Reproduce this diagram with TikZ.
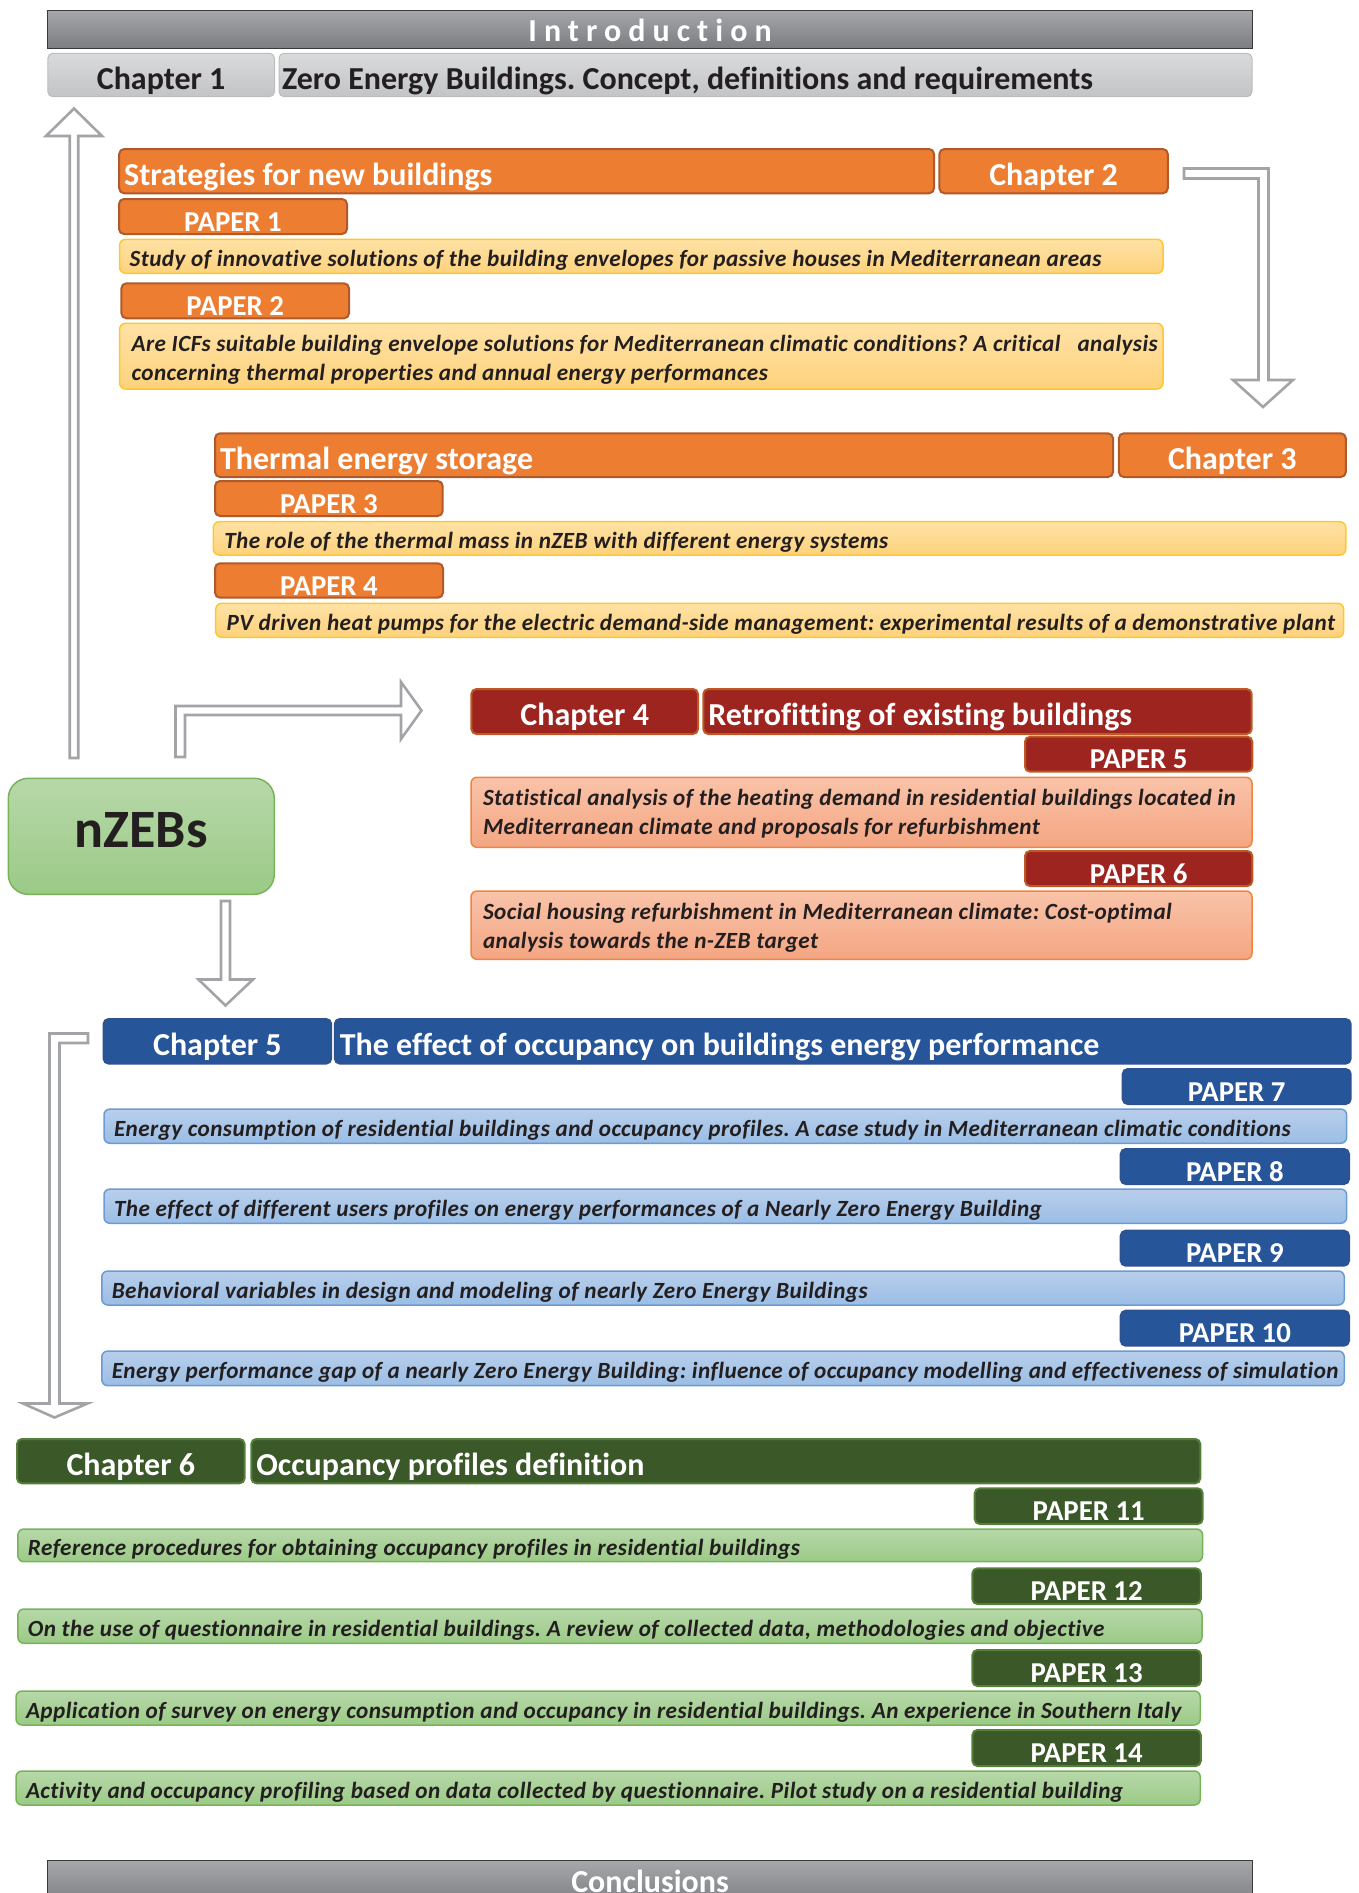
\documentclass[tikz,border=0pt]{standalone}
\usepackage{fontspec}
\setmainfont{Carlito}[Ligatures=NoCommon]
\frenchspacing
\usepackage{tikz}
\usetikzlibrary{calc}
\definecolor{barTop}{HTML}{A6A7AB}
\definecolor{barBot}{HTML}{7C7D81}
\definecolor{barLine}{HTML}{3A3A3A}
\definecolor{greyTop}{HTML}{D9DADC}
\definecolor{greyBot}{HTML}{C3C4C6}
\definecolor{greyLine}{HTML}{BCBDBF}
\definecolor{ink}{HTML}{231F20}
\definecolor{chapOrange}{HTML}{ED7D31}
\definecolor{orangeLine}{HTML}{B0592A}
\definecolor{sandTop}{HTML}{FFE2A6}
\definecolor{sandBot}{HTML}{FDD27C}
\definecolor{sandLine}{HTML}{FFC72C}
\definecolor{brick}{HTML}{9E2420}
\definecolor{brickLine}{HTML}{BD5A24}
\definecolor{salmonTop}{HTML}{F9C3A9}
\definecolor{salmonBot}{HTML}{F4A683}
\definecolor{salmonLine}{HTML}{F0843F}
\definecolor{navy}{HTML}{27559A}
\definecolor{navyLine}{HTML}{2D5290}
\definecolor{skyTop}{HTML}{B8CFEB}
\definecolor{skyBot}{HTML}{9BBDE5}
\definecolor{skyLine}{HTML}{6B9BD3}
\definecolor{forest}{HTML}{3A5828}
\definecolor{forestLine}{HTML}{557F38}
\definecolor{leafTop}{HTML}{B7D8A9}
\definecolor{leafBot}{HTML}{9BCA86}
\definecolor{leafLine}{HTML}{78B35A}
\definecolor{arrowLine}{HTML}{A3A4A8}
\newcommand\ttlfont{\bfseries\fontsize{32}{38}\selectfont}
\newcommand\paperfont{\bfseries\fontsize{28.8}{34}\selectfont}
\newcommand\descfont{\bfseries\itshape\fontsize{23.2}{29}\selectfont\addfontfeature{LetterSpace=1.8}}
\newcommand\nzebfont{\bfseries\fontsize{54}{64}\selectfont}
% left-set text of a given width, one or two lines
\newcommand\lbox[2]{\makebox[#1][l]{#2}}
\newcommand\ltwo[3]{\makebox[#1][l]{\begin{tabular}[t]{@{}l@{}}#2\\#3\end{tabular}}}
\tikzset{
  box/.style={anchor=north west, inner sep=0pt, outer sep=0pt, rounded corners=5pt, line width=2pt},
  bar/.style={anchor=north west, inner sep=0pt, outer sep=0pt, draw=barLine, line width=1pt, top color=barTop, bottom color=barBot, text=white, font=\ttlfont},
  head/.style={box, font=\ttlfont, text height=28pt, text depth=0pt},
  ttl/.style={inner xsep=5pt},
  paper/.style={box, font=\paperfont, text=white, text height=29.4pt, text depth=0pt},
  desc/.style={box, rounded corners=6pt, line width=1.5pt, font=\descfont, text=ink, inner xsep=10pt},
  one/.style={text height=21pt, text depth=0pt},
  two/.style={inner xsep=12pt, text height=17pt, text depth=#1},
  greyfill/.style={draw=greyLine, line width=1pt, top color=greyTop, bottom color=greyBot, text=ink},
  orangefill/.style={draw=orangeLine, fill=chapOrange, text=white},
  sandfill/.style={draw=sandLine, top color=sandTop, bottom color=sandBot},
  redfill/.style={draw=brickLine, fill=brick, text=white},
  salmonfill/.style={draw=salmonLine, top color=salmonTop, bottom color=salmonBot},
  bluefill/.style={draw=navyLine, fill=navy, text=white},
  skyfill/.style={draw=skyLine, top color=skyTop, bottom color=skyBot},
  greenfill/.style={draw=forestLine, fill=forest, text=white},
  leaffill/.style={draw=leafLine, top color=leafTop, bottom color=leafBot},
  blockarrow/.style={draw=arrowLine, fill=white, line width=2.6pt, line join=miter}
}

\begin{document}
\begin{tikzpicture}[x=1pt, y=-1pt]
  \useasboundingbox (0,0) rectangle (1359,1893);

  % introduction and chapter 1
  \node[bar, minimum width=1204.5pt, minimum height=38.3pt, text height=25pt, text depth=0pt] (intro) at (47.8,10) {\addfontfeature{LetterSpace=22}Introduction};
  \node[head, greyfill, minimum width=226.7pt, minimum height=43.4pt] (ch1) at (47.8,53.3) {Chapter 1};
  \node[head, ttl, greyfill, inner xsep=3pt, minimum width=973pt, minimum height=43.4pt] (ch1t) at (279,53.3) {\lbox{967pt}{Zero Energy Buildings. Concept, definitions and requirements}};

  % chapter 2
  \node[head, ttl, orangefill, minimum width=814.8pt, minimum height=44.3pt] (ch2t) at (119.2,149) {\lbox{804.8pt}{Strategies for new buildings}};
  \node[head, orangefill, minimum width=228.4pt, minimum height=44.3pt] (ch2) at (939.4,149) {Chapter 2};
  \node[paper, orangefill, minimum width=228pt, minimum height=35pt] (p1) at (119,199) {PAPER 1};
  \node[desc, one, sandfill, minimum width=1043.4pt, minimum height=34pt] (d1) at (119.6,239.3) {\lbox{1023.4pt}{Study of innovative solutions of the building envelopes for passive houses in Mediterranean areas}};
  \node[paper, orangefill, minimum width=227.6pt, minimum height=35pt] (p2) at (121.4,283.3) {PAPER 2};
  \node[desc, two=26.7pt, sandfill, minimum width=1043.4pt, minimum height=65.7pt] (d2) at (119.6,323.3) {\ltwo{1019.4pt}{Are ICFs suitable building envelope solutions for Mediterranean climatic conditions? A critical\ \ \ analysis}{concerning thermal properties and annual energy performances}};

  % chapter 3
  \node[head, ttl, orangefill, minimum width=898pt, minimum height=43.7pt] (ch3t) at (215,433.3) {\lbox{888pt}{Thermal energy storage}};
  \node[head, orangefill, minimum width=227pt, minimum height=43.7pt] (ch3) at (1118.8,433.3) {Chapter 3};
  \node[paper, orangefill, minimum width=227.7pt, minimum height=35pt] (p3) at (215,481) {PAPER 3};
  \node[desc, one, sandfill, inner xsep=11pt, minimum width=1132.5pt, minimum height=33.3pt] (d3) at (213.3,521.7) {\lbox{1110.5pt}{The role of the thermal mass in nZEB with different energy systems}};
  \node[paper, orangefill, minimum width=228pt, minimum height=34.4pt] (p4) at (215,563.3) {PAPER 4};
  \node[desc, one, sandfill, inner xsep=11pt, minimum width=1128pt, minimum height=34pt] (d4) at (215.7,603.3) {\lbox{1106pt}{PV driven heat pumps for the electric demand-side management: experimental results of a demonstrative plant}};

  % chapter 4
  \node[head, redfill, minimum width=226.6pt, minimum height=45pt] (ch4) at (471.4,689) {Chapter 4};
  \node[head, ttl, redfill, minimum width=548.4pt, minimum height=45pt] (ch4t) at (703.3,689) {\lbox{538.4pt}{Retrofitting of existing buildings}};
  \node[paper, redfill, minimum width=227.3pt, minimum height=35pt] (p5) at (1025,736.7) {PAPER 5};
  \node[desc, two=31pt, salmonfill, minimum width=781pt, minimum height=70pt] (d5) at (471,777.3) {\ltwo{757pt}{Statistical analysis of the heating demand in residential buildings located in}{Mediterranean climate and proposals for refurbishment}};
  \node[paper, redfill, minimum width=227.3pt, minimum height=35pt] (p6) at (1025,851) {PAPER 6};
  \node[desc, two=29.3pt, salmonfill, minimum width=781pt, minimum height=68.3pt] (d6) at (471,891) {\ltwo{757pt}{Social housing refurbishment in Mediterranean climate: Cost-optimal}{analysis towards the n-ZEB target}};

  % chapter 5
  \node[head, bluefill, minimum width=227.6pt, minimum height=44.6pt] (ch5) at (103.6,1019) {Chapter 5};
  \node[head, ttl, bluefill, minimum width=1015.9pt, minimum height=44.6pt] (ch5t) at (334.8,1019) {\lbox{1005.9pt}{The effect of occupancy on buildings energy performance}};
  \node[paper, bluefill, minimum width=228pt, minimum height=35pt] (p7) at (1122.7,1069) {PAPER 7};
  \node[desc, one, skyfill, minimum width=1242.7pt, minimum height=34.3pt] (d7) at (104,1109) {\lbox{1222.7pt}{Energy consumption of residential buildings and occupancy profiles. A case study in Mediterranean climatic conditions}};
  \node[paper, bluefill, minimum width=228.3pt, minimum height=35pt] (p8) at (1120.7,1149) {PAPER 8};
  \node[desc, one, skyfill, minimum width=1242.7pt, minimum height=34.3pt] (d8) at (104,1189) {\lbox{1222.7pt}{The effect of different users profiles on energy performances of a Nearly Zero Energy Building}};
  \node[paper, bluefill, minimum width=228.3pt, minimum height=35pt] (p9) at (1120.7,1230.7) {PAPER 9};
  \node[desc, one, skyfill, minimum width=1242.5pt, minimum height=34pt] (d9) at (101.8,1271) {\lbox{1222.5pt}{Behavioral variables in design and modeling of nearly Zero Energy Buildings}};
  \node[paper, bluefill, minimum width=228.3pt, minimum height=35pt] (p10) at (1120.7,1310.7) {PAPER 10};
  \node[desc, one, skyfill, minimum width=1242.5pt, minimum height=34.7pt] (d10) at (101.8,1351) {\lbox{1222.5pt}{Energy performance gap of a nearly Zero Energy Building: influence of occupancy modelling and effectiveness of simulation}};

  % chapter 6
  \node[head, greenfill, minimum width=227.6pt, minimum height=44.3pt] (ch6) at (17,1439) {Chapter 6};
  \node[head, ttl, greenfill, minimum width=949pt, minimum height=44.3pt] (ch6t) at (251.3,1439) {\lbox{939pt}{Occupancy profiles definition}};
  \node[paper, greenfill, minimum width=228pt, minimum height=35.7pt] (p11) at (974.7,1488.3) {PAPER 11};
  \node[desc, one, leaffill, minimum width=1184.7pt, minimum height=32.7pt] (d11) at (17.9,1529) {\lbox{1164.7pt}{Reference procedures for obtaining occupancy profiles in residential buildings}};
  \node[paper, greenfill, minimum width=228.4pt, minimum height=35.7pt] (p12) at (972.4,1568.3) {PAPER 12};
  \node[desc, one, leaffill, minimum width=1184.1pt, minimum height=34.3pt] (d12) at (17.9,1609) {\lbox{1164.1pt}{On the use of questionnaire in residential buildings. A review of collected data, methodologies and objective}};
  \node[paper, greenfill, minimum width=228.4pt, minimum height=36pt] (p13) at (972.4,1650) {PAPER 13};
  \node[desc, one, leaffill, minimum width=1184.3pt, minimum height=34pt] (d13) at (16,1691) {\lbox{1164.3pt}{Application of survey on energy consumption and occupancy in residential buildings. An experience in Southern Italy}};
  \node[paper, greenfill, minimum width=228.4pt, minimum height=36pt] (p14) at (972.4,1730) {PAPER 14};
  \node[desc, one, leaffill, minimum width=1184.3pt, minimum height=34pt] (d14) at (16,1771) {\lbox{1164.3pt}{Activity and occupancy profiling based on data collected by questionnaire. Pilot study on a residential building}};

  % nZEBs and conclusions
  \node[box, rounded corners=20pt, line width=1.5pt, leaffill, font=\nzebfont, text=ink, minimum width=266pt, minimum height=116pt, text height=21.4pt, text depth=0pt] (nzeb) at (8.3,778.3) {nZEBs};
  \node[bar, minimum width=1204.5pt, minimum height=45pt, text height=18.2pt, text depth=0pt] (concl) at (47.8,1860.7) {Conclusions};

  % block arrows
  \draw[blockarrow] (69.7,758) -- (69.7,136) -- (46,136) -- (74,108.5) -- (102,136) -- (78.2,136) -- (78.2,758) -- cycle;
  \draw[blockarrow] (1184,168.5) -- (1268.5,168.5) -- (1268.5,380) -- (1293,380) -- (1263,407) -- (1233,380) -- (1258.5,380) -- (1258.5,178.5) -- (1184,178.5) -- cycle;
  \draw[blockarrow] (175.5,757) -- (175.5,706) -- (401,706) -- (401,682) -- (421.5,710.5) -- (401,739) -- (401,715) -- (185,715) -- (185,757) -- cycle;
  \draw[blockarrow] (221,901) -- (230,901) -- (230,979.5) -- (253,979.5) -- (225.5,1005.5) -- (198.5,979.5) -- (221,979.5) -- cycle;
  \draw[blockarrow] (88,1033.5) -- (49.5,1033.5) -- (49.5,1403.5) -- (23,1403.5) -- (54.5,1417.5) -- (87.5,1403.5) -- (59.5,1403.5) -- (59.5,1043) -- (88,1043) -- cycle;
\end{tikzpicture}
\end{document}
